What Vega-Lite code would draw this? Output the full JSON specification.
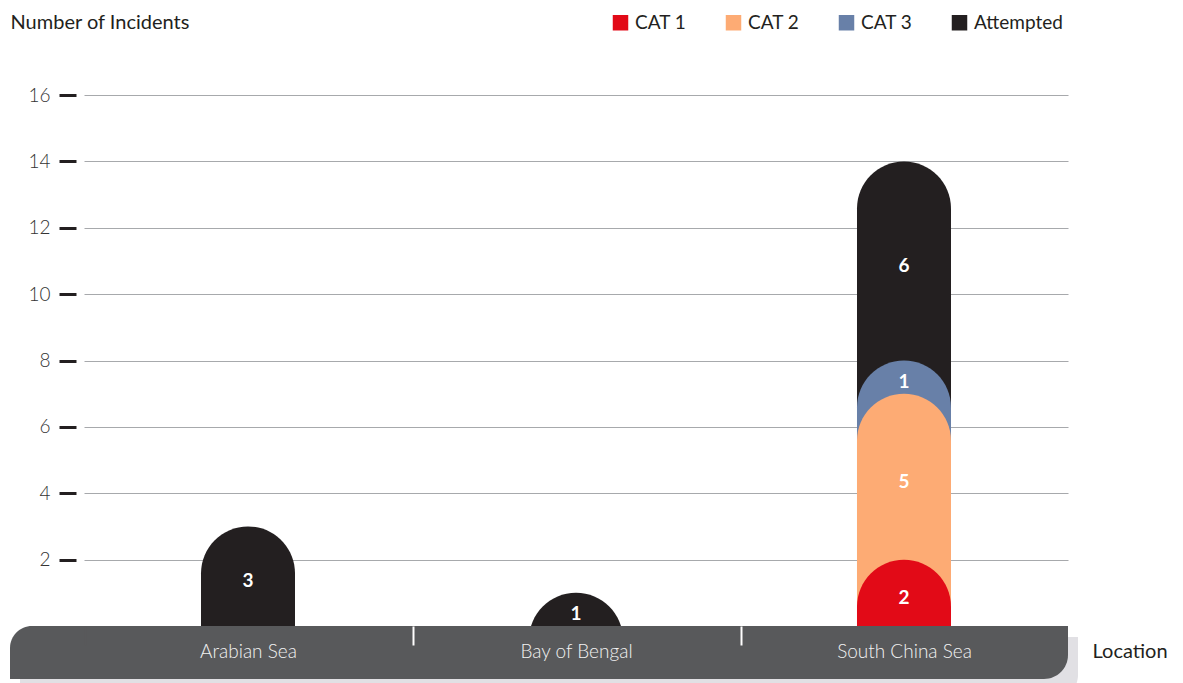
{
  "$schema": "https://vega.github.io/schema/vega-lite/v6.json",
  "width": 984,
  "height": 531,
  "autosize": {"type": "none"},
  "padding": {"left": 84, "top": 95, "right": 115, "bottom": 57},
  "background": "white",
  "config": {"view": {"stroke": null}, "font": "Lato"},
  "data": {
    "values": [
      {"location": "Arabian Sea", "category": "Attempted", "count": 3},
      {"location": "Bay of Bengal", "category": "Attempted", "count": 1},
      {"location": "South China Sea", "category": "Attempted", "count": 6},
      {"location": "South China Sea", "category": "CAT 3", "count": 1},
      {"location": "South China Sea", "category": "CAT 2", "count": 5},
      {"location": "South China Sea", "category": "CAT 1", "count": 2}
    ]
  },
  "transform": [
    {"calculate": "indexof(['CAT 1','CAT 2','CAT 3','Attempted'], datum.category)", "as": "rank"},
    {"stack": "count", "groupby": ["location"], "sort": [{"field": "rank", "order": "ascending"}], "as": ["start", "end"]},
    {"calculate": "(datum.start + datum.end) / 2", "as": "mid"}
  ],
  "layer": [
    {
      "mark": {"type": "bar", "cornerRadiusTopLeft": 47, "cornerRadiusTopRight": 47},
      "encoding": {
        "x": {
          "field": "location", "type": "nominal", "sort": null,
          "scale": {"paddingInner": 0.7134, "paddingOuter": 0.3567},
          "axis": {
            "zindex": 2,
            "domain": false,
            "bandPosition": 0,
            "tickOffset": -116,
            "labelOffset": 116,
            "ticks": true,
            "tickSize": 19,
            "tickWidth": 2,
            "tickColor": {"condition": {"test": "datum.value === 'Arabian Sea'", "value": "#58595b"}, "value": "#ffffff"},
            "labelAngle": 0,
            "labelFontSize": 19,
            "labelFontWeight": 300,
            "labelColor": "#f2f2f2",
            "labelBaseline": "middle",
            "labelPadding": 6,
            "title": "Location",
            "titleX": 1008,
            "titleY": 25,
            "titleAlign": "left",
            "titleBaseline": "middle",
            "titleFontSize": 20,
            "titleFontWeight": "normal",
            "titleColor": "#231f20"
          }
        },
        "y": {
          "field": "end", "type": "quantitative",
          "scale": {"domain": [0, 16], "nice": false, "zero": false},
          "axis": {
            "values": [2, 4, 6, 8, 10, 12, 14, 16],
            "domain": false,
            "offset": 8,
            "tickSize": 17,
            "tickWidth": 3,
            "tickColor": "#231f20",
            "labelPadding": 9,
            "labelFontSize": 19,
            "labelFontWeight": 300,
            "labelColor": "#333333",
            "labelBaseline": "middle",
            "grid": true,
            "gridColor": "#a7a9ac",
            "gridWidth": 1,
            "title": "Number of Incidents",
            "titleAngle": 0,
            "titleX": -66,
            "titleY": -73,
            "titleAlign": "left",
            "titleBaseline": "middle",
            "titleFontSize": 20,
            "titleFontWeight": "normal",
            "titleColor": "#231f20"
          }
        },
        "y2": {"datum": -3},
        "color": {
          "field": "category", "type": "nominal",
          "scale": {"domain": ["CAT 1", "CAT 2", "CAT 3", "Attempted"], "range": ["#e20a17", "#fdab74", "#6880a8", "#231f20"]},
          "legend": {
            "title": null,
            "orient": "none",
            "legendX": 527,
            "legendY": -82,
            "direction": "horizontal",
            "columns": 4,
            "gridAlign": "all",
            "columnPadding": 0,
            "symbolType": "square",
            "symbolSize": 240,
            "symbolStrokeWidth": 0,
            "symbolOpacity": 1,
            "labelFontSize": 19,
            "labelColor": "#231f20",
            "labelOffset": 5
          }
        }
      }
    },
    {
      "mark": {"type": "text", "color": "white", "fontSize": 19, "fontWeight": "bold", "dy": 5},
      "encoding": {
        "x": {"field": "location", "type": "nominal", "sort": null},
        "y": {"field": "mid", "type": "quantitative"},
        "text": {"field": "count", "type": "quantitative"}
      }
    },
    {
      "data": {"values": [{}]},
      "mark": {"type": "rect", "color": "#e1e0e4", "cornerRadiusBottomRight": 24},
      "encoding": {
        "x": {"value": -64},
        "x2": {"value": 994},
        "y": {"datum": -0.33},
        "y2": {"datum": -2.2}
      }
    },
    {
      "data": {"values": [{}]},
      "mark": {"type": "rect", "color": "#58595b", "cornerRadiusTopLeft": 22, "cornerRadiusBottomRight": 24},
      "encoding": {
        "x": {"value": -74},
        "x2": {"value": 984},
        "y": {"datum": 0},
        "y2": {"datum": -1.6}
      }
    }
  ]
}
